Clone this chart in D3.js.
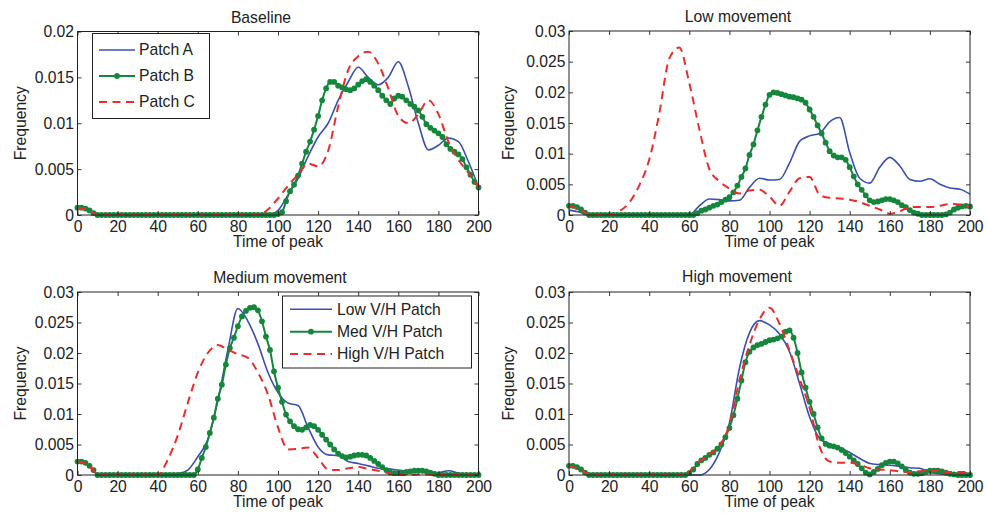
<!DOCTYPE html>
<html>
<head>
<meta charset="utf-8">
<script src="https://cdn.jsdelivr.net/npm/d3@7"></script>
<style>
  body { margin: 0; background: #fff; }
  svg { display: block; font-family: "Liberation Sans", Arial, sans-serif; }
</style>
</head>
<body>
<svg width="987" height="518"></svg>
<script>
// **** Data ****
// blue / red curves sampled every 5 time units, green (marker) curve every 2
var coarseTimes = d3.range(0, 201, 5);
var fineTimes = d3.range(0, 201, 2);

var xTicks = [0, 20, 40, 60, 80, 100, 120, 140, 160, 180, 200];
var yTicksBaseline = [0, 0.005, 0.01, 0.015, 0.02];
var yTicksMovement = [0, 0.005, 0.01, 0.015, 0.02, 0.025, 0.03];

var titles = ['Baseline', 'Low movement', 'Medium movement', 'High movement'];
var baselineLegend = ['Patch A', 'Patch B', 'Patch C'];
var movementLegend = ['Low V/H Patch', 'Med V/H Patch', 'High V/H Patch'];

// Baseline
var baselineA = [0.0007, 0.0005, 0, 0, 0, 0, 0, 0, 0, 0, 0, 0, 0, 0, 0, 0, 0, 0, 0, 0,
    0.0005, 0.0022, 0.0040, 0.0064, 0.0085, 0.0100, 0.0125, 0.0145, 0.0161, 0.0150,
    0.0142, 0.0150, 0.0167, 0.0140, 0.0100, 0.0071, 0.0076, 0.0084, 0.0080, 0.0058, 0.0030];
var baselineB = [0.0008, 0.0008, 0.0007, 0.0005, 0.0002,
    0, 0, 0, 0, 0, 0, 0, 0, 0, 0,
    0, 0, 0, 0, 0, 0, 0, 0, 0, 0,
    0, 0, 0, 0, 0, 0, 0, 0, 0, 0,
    0, 0, 0, 0, 0, 0, 0, 0, 0, 0,
    0, 0, 0, 0, 0,
    0.0001, 0.0003, 0.0015, 0.0026, 0.0033, 0.0043, 0.0056, 0.0069, 0.0080, 0.0093,
    0.0108, 0.0125, 0.0138, 0.0145, 0.0145, 0.0141, 0.0139, 0.0137, 0.0136, 0.0138,
    0.0142, 0.0146, 0.0148, 0.0145, 0.0141, 0.0136, 0.0130, 0.0125, 0.0121, 0.0127,
    0.0130, 0.0129, 0.0125, 0.0121, 0.0118, 0.0114, 0.0107, 0.0099, 0.0095, 0.0092,
    0.0089, 0.0085, 0.0077, 0.0072, 0.0069, 0.0066, 0.0061, 0.0052, 0.0044, 0.0036,
    0.0030];
var baselineC = [0.0007, 0.0006, 0, 0, 0, 0, 0, 0, 0, 0, 0, 0, 0, 0, 0, 0, 0, 0, 0, 0.0006,
    0.0018, 0.0032, 0.0044, 0.0056, 0.0053, 0.0070, 0.0118, 0.0158, 0.0173, 0.0178,
    0.0165, 0.0138, 0.0108, 0.0100, 0.0110, 0.0125, 0.0110, 0.0080, 0.0060, 0.0046, 0.0030];

// Low movement
var lowBlue = [0.0008, 0.0005, 0, 0, 0, 0, 0, 0, 0, 0, 0, 0, 0,
    0.0015, 0.0026, 0.0025, 0.0023, 0.0024, 0.0045, 0.0060,
    0.0057, 0.0058, 0.0085, 0.0120, 0.0129, 0.0133, 0.0152, 0.0159, 0.0102, 0.0060,
    0.0052, 0.0078, 0.0094, 0.0080, 0.0058, 0.0055, 0.0059, 0.0050, 0.0044, 0.0042, 0.0034];
var lowGreen = [0.0015, 0.0015, 0.0013, 0.0009, 0.0004,
    0, 0, 0, 0, 0, 0, 0, 0, 0, 0,
    0, 0, 0, 0, 0, 0, 0, 0, 0, 0,
    0, 0, 0, 0, 0, 0, 0,
    0.0003, 0.0007, 0.0009, 0.0012, 0.0015, 0.0017, 0.0021, 0.0025, 0.0029, 0.0037,
    0.0048, 0.0062, 0.0076, 0.0098, 0.0115, 0.0138, 0.0160, 0.0180, 0.0196, 0.0200,
    0.0199, 0.0197, 0.0195, 0.0193, 0.0192, 0.0190, 0.0188, 0.0183, 0.0172, 0.0160,
    0.0146, 0.0133, 0.0118, 0.0104, 0.0097, 0.0094, 0.0094, 0.0090, 0.0078, 0.0063,
    0.0050, 0.0041, 0.0032, 0.0024, 0.0021, 0.0022, 0.0024, 0.0026, 0.0026, 0.0024,
    0.0021, 0.0016, 0.0013, 0.0008, 0.0004, 0.0002, 0, 0, 0, 0,
    0, 0, 0.0001, 0.0004, 0.0009, 0.0012, 0.0014, 0.0015,
    0.0014];
var lowRed = [0.0014, 0.0010, 0.0001, 0, 0, 0.0006, 0.0020, 0.0048, 0.0090, 0.0165,
    0.0255, 0.0273, 0.0215, 0.0140, 0.0075, 0.0055, 0.0043, 0.0035, 0.0040, 0.0041,
    0.0030, 0.0015, 0.0038, 0.0060, 0.0062, 0.0033, 0.0028, 0.0027, 0.0025, 0.0021,
    0.0015, 0.0009, 0.0002, 0.0006, 0.0013, 0.0013, 0.0013, 0.0015, 0.0018, 0.0017, 0.0013];

// Medium movement
var medBlue = [0.0022, 0.0017, 0.0002, 0, 0, 0, 0, 0, 0, 0,
    0.0002, 0.0008, 0.0030, 0.0058, 0.0122, 0.0205, 0.0273, 0.0252, 0.0215, 0.0168,
    0.0135, 0.0118, 0.0114, 0.0078, 0.0046, 0.0033, 0.0032, 0.0022, 0.0019, 0.0015,
    0.0011, 0.0010, 0.0008, 0.0006, 0.0005, 0.0004, 0.0004, 0.0007, 0.0003, 0, 0];
var medGreen = [0.0022, 0.0022, 0.0020, 0.0015, 0.0008,
    0, 0, 0, 0, 0, 0, 0, 0, 0, 0,
    0, 0, 0, 0, 0, 0, 0, 0, 0, 0,
    0, 0, 0, 0, 0,
    0.0009, 0.0028, 0.0046, 0.0069, 0.0094, 0.0125, 0.0148, 0.0181, 0.0208, 0.0225,
    0.0244, 0.0260, 0.0269, 0.0274, 0.0275, 0.0270, 0.0252, 0.0227, 0.0205, 0.0170,
    0.0143, 0.0120, 0.0099, 0.0088, 0.0080, 0.0075, 0.0074, 0.0078, 0.0082, 0.0080,
    0.0074, 0.0066, 0.0058, 0.0050, 0.0042, 0.0035, 0.0031, 0.0029, 0.0030, 0.0032,
    0.0033, 0.0033, 0.0032, 0.0028, 0.0023, 0.0018, 0.0013, 0.0008, 0.0004, 0.0003,
    0.0003, 0.0004, 0.0005, 0.0006, 0.0007, 0.0007, 0.0007, 0.0006, 0.0004, 0.0002,
    0, 0, 0, 0, 0, 0, 0, 0, 0, 0, 0];
var medRed = [0.0022, 0.0017, 0.0002, 0, 0, 0, 0, 0, 0, 0.0025,
    0.0065, 0.0118, 0.0168, 0.0200, 0.0213, 0.0205, 0.0198, 0.0192, 0.0168, 0.0132,
    0.0078, 0.0042, 0.0043, 0.0045, 0.0028, 0.0009, 0.0008, 0.0011, 0.0013, 0.0010,
    0.0007, 0.0003, 0, 0, 0.0001, 0.0001, 0, 0, 0, 0, 0];

// High movement
var highBlue = [0.0014, 0.0010, 0.0001, 0, 0, 0, 0, 0, 0, 0, 0, 0, 0, 0,
    0.0009, 0.0037, 0.0085, 0.0175, 0.0233, 0.0253,
    0.0246, 0.0231, 0.0202, 0.0150, 0.0095, 0.0060, 0.0051, 0.0045, 0.0037, 0.0027,
    0.0019, 0.0017, 0.0016, 0.0014, 0.0012, 0.0011, 0.0004, 0.0002, 0, 0, 0];
var highGreen = [0.0015, 0.0015, 0.0013, 0.0009, 0.0004,
    0, 0, 0, 0, 0, 0, 0, 0, 0, 0,
    0, 0, 0, 0, 0, 0, 0, 0, 0, 0,
    0, 0, 0, 0, 0,
    0.0003, 0.0009, 0.0018, 0.0024, 0.0028, 0.0033, 0.0037, 0.0043, 0.0050, 0.0062,
    0.0077, 0.0098, 0.0125, 0.0155, 0.0185, 0.0202, 0.0209, 0.0213, 0.0215, 0.0218,
    0.0221, 0.0222, 0.0224, 0.0227, 0.0235, 0.0237, 0.0225, 0.0200, 0.0168, 0.0143,
    0.0120, 0.0100, 0.0078, 0.0060, 0.0051, 0.0048, 0.0047, 0.0045, 0.0041, 0.0036,
    0.0030, 0.0024, 0.0018, 0.0011, 0.0004, 0.0001, 0.0005, 0.0010, 0.0016, 0.0020,
    0.0022, 0.0022, 0.0019, 0.0014, 0.0008, 0.0004, 0.0002, 0.0002, 0.0003, 0.0005,
    0.0007, 0.0007, 0.0007, 0.0006, 0.0004, 0.0002, 0.0001, 0, 0, 0, 0];
var highRed = [0.0014, 0.0010, 0.0001, 0, 0, 0, 0, 0, 0, 0, 0, 0,
    0.0006, 0.0022, 0.0034, 0.0048, 0.0082, 0.0155, 0.0213, 0.0255,
    0.0274, 0.0248, 0.0204, 0.0158, 0.0110, 0.0046, 0.0022, 0.0020, 0.0020, 0.0017,
    0.0011, 0.0009, 0.0008, 0.0006, 0.0005, 0.0006, 0.0007, 0.0006, 0.0005, 0.0005, 0.0005];

// **** Styles and layout ****
var BLUE = '#3a4fb4', GREEN = '#14873c', RED = '#ee2b2b', INK = '#222';
var FONT = 15.7;

var panels = [
    { title: titles[0], yMax: 0.02, yTicks: yTicksBaseline,
      blue: baselineA, green: baselineB, red: baselineC,
      x0: 77.5, x1: 478.5, y0: 31.5, y1: 215, titleX: 261, titleY: 22.5, freqX: 26.2,
      legend: { names: baselineLegend, x: 92.5, y: 33.5, w: 117, h: 85, rowY: [16.5, 42.5, 68.5], lx0: 6.5, lx1: 42.5, tx: 46.5 } },
    { title: titles[1], yMax: 0.03, yTicks: yTicksMovement,
      blue: lowBlue, green: lowGreen, red: lowRed,
      x0: 569, x1: 970, y0: 31, y1: 215, titleX: 738, titleY: 22, freqX: 514 },
    { title: titles[2], yMax: 0.03, yTicks: yTicksMovement,
      blue: medBlue, green: medGreen, red: medRed,
      x0: 77.5, x1: 478.5, y0: 292, y1: 475, titleX: 280, titleY: 282.5, freqX: 26.2,
      legend: { names: movementLegend, x: 282.5, y: 296, w: 189, h: 72, rowY: [13.3, 35.7, 58], lx0: 7.5, lx1: 49.5, tx: 54.5 } },
    { title: titles[3], yMax: 0.03, yTicks: yTicksMovement,
      blue: highBlue, green: highGreen, red: highRed,
      x0: 569, x1: 970, y0: 292, y1: 475, titleX: 737, titleY: 282, freqX: 514 }
];

var svg = d3.select('svg');
svg.append('rect').attr('width', 987).attr('height', 518).attr('fill', '#fff');

function fmt(d) { return String(+d.toFixed(3)); }

function styleAxis(g) {
    g.select('.domain').remove();
    g.attr('font-family', null).attr('font-size', null);
    g.selectAll('line').attr('stroke', INK).attr('stroke-width', 0.9);
    g.selectAll('text').attr('fill', INK).style('font-size', FONT + 'px');
}

panels.forEach(function(p) {
    var x = d3.scaleLinear().domain([0, 200]).range([p.x0, p.x1]);
    var y = d3.scaleLinear().domain([0, p.yMax]).range([p.y1, p.y0]);
    var g = svg.append('g').attr('class', 'panel');

    // curves
    var line = d3.line()
        .x(function(d) { return x(d[0]); })
        .y(function(d) { return y(d[1]); })
        .curve(d3.curveMonotoneX);
    var bluePts = coarseTimes.map(function(t, i) { return [t, p.blue[i]]; });
    var greenPts = fineTimes.map(function(t, i) { return [t, p.green[i]]; });
    var redPts = coarseTimes.map(function(t, i) { return [t, p.red[i]]; });

    g.append('path').attr('d', line(bluePts))
        .attr('fill', 'none').attr('stroke', BLUE).attr('stroke-width', 1.6);
    g.append('path').attr('d', line(greenPts))
        .attr('fill', 'none').attr('stroke', GREEN).attr('stroke-width', 2);
    g.selectAll('.dot').data(greenPts).enter().append('circle')
        .attr('class', 'dot')
        .attr('cx', function(d) { return x(d[0]); })
        .attr('cy', function(d) { return y(d[1]); })
        .attr('r', 2.9).attr('fill', GREEN);
    g.append('path').attr('d', line(redPts))
        .attr('fill', 'none').attr('stroke', RED).attr('stroke-width', 2)
        .attr('stroke-dasharray', '8,5.5');

    // box + inward ticks on all sides
    g.append('rect').attr('x', p.x0).attr('y', p.y0)
        .attr('width', p.x1 - p.x0).attr('height', p.y1 - p.y0)
        .attr('fill', 'none').attr('stroke', INK).attr('stroke-width', 1);
    g.append('g').attr('transform', 'translate(0,' + p.y1 + ')')
        .call(d3.axisBottom(x).tickValues(xTicks).tickSizeInner(-4).tickSizeOuter(0).tickPadding(5.5))
        .call(styleAxis);
    g.append('g').attr('transform', 'translate(0,' + p.y0 + ')')
        .call(d3.axisTop(x).tickValues(xTicks).tickSizeInner(-4).tickSizeOuter(0).tickFormat(''))
        .call(styleAxis);
    g.append('g').attr('transform', 'translate(' + p.x0 + ',0)')
        .call(d3.axisLeft(y).tickValues(p.yTicks).tickSizeInner(-4).tickSizeOuter(0).tickPadding(3.5).tickFormat(fmt))
        .call(styleAxis);
    g.append('g').attr('transform', 'translate(' + p.x1 + ',0)')
        .call(d3.axisRight(y).tickValues(p.yTicks).tickSizeInner(-4).tickSizeOuter(0).tickFormat(''))
        .call(styleAxis);

    // labels
    g.append('text').attr('x', p.titleX).attr('y', p.titleY)
        .attr('text-anchor', 'middle').attr('fill', INK).style('font-size', FONT + 'px')
        .text(p.title);
    g.append('text').attr('x', (p.x0 + p.x1) / 2).attr('y', p.y1 + 32)
        .attr('text-anchor', 'middle').attr('fill', INK).style('font-size', FONT + 'px')
        .text('Time of peak');
    g.append('text')
        .attr('transform', 'translate(' + p.freqX + ',' + ((p.y0 + p.y1) / 2) + ') rotate(-90)')
        .attr('text-anchor', 'middle').attr('fill', INK).style('font-size', FONT + 'px')
        .text('Frequency');

    // legend
    if (p.legend) {
        var L = p.legend;
        var lg = g.append('g').attr('transform', 'translate(' + L.x + ',' + L.y + ')');
        lg.append('rect').attr('width', L.w).attr('height', L.h)
            .attr('fill', '#fff').attr('stroke', INK).attr('stroke-width', 1);
        var styles = [
            { c: BLUE, w: 1.6, dash: null, dot: false },
            { c: GREEN, w: 2, dash: null, dot: true },
            { c: RED, w: 2, dash: '8,5.5', dot: false }
        ];
        L.names.forEach(function(name, i) {
            var s = styles[i], ry = L.rowY[i];
            lg.append('line').attr('x1', L.lx0).attr('x2', L.lx1).attr('y1', ry).attr('y2', ry)
                .attr('stroke', s.c).attr('stroke-width', s.w).attr('stroke-dasharray', s.dash);
            if (s.dot) {
                lg.append('circle').attr('cx', (L.lx0 + L.lx1) / 2).attr('cy', ry)
                    .attr('r', 2.9).attr('fill', s.c);
            }
            lg.append('text').attr('x', L.tx).attr('y', ry).attr('dy', '0.35em')
                .attr('fill', INK).style('font-size', FONT + 'px').text(name);
        });
    }
});
</script>
</body>
</html>
